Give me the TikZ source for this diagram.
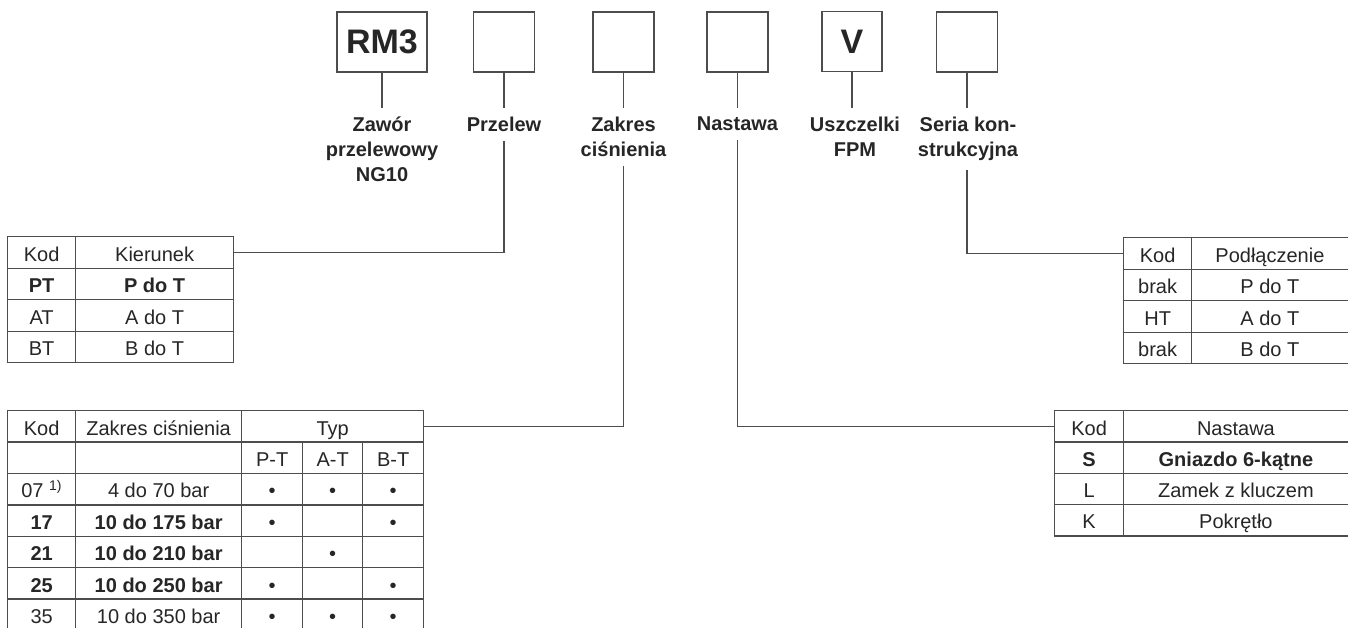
\documentclass[tikz,border=0pt]{standalone}
\usepackage{fontspec}
\setmainfont{Liberation Sans}
\definecolor{linec}{HTML}{4D4D4D}
\definecolor{txt}{HTML}{262626}
% one table cell: name, left, top, width, height, extra options, text
\newcommand\tabcell[7]{\node[cellbox,minimum width=#4pt,minimum height=#5pt,#6] (#1) at (#2,#3) {#7};}
\begin{document}
\begin{tikzpicture}[x=1pt,y=-1pt,
  rule/.style={draw=linec,line width=1.3pt},
  topbox/.style={rule,minimum width=61pt,minimum height=60pt,inner sep=0pt,
    font=\fontsize{34}{40}\selectfont\bfseries,text=txt},
  lbl/.style={font=\fontsize{20}{25}\selectfont\bfseries,align=center,
    inner xsep=0pt,inner ysep=9pt,text=txt,anchor=north},
  cellbox/.style={rule,inner sep=0pt,anchor=north west,
    text height=18pt,text depth=0.5pt,
    font=\fontsize{20}{24}\selectfont,text=txt},
  bold/.style={font=\fontsize{20}{24}\selectfont\bfseries},
  link/.style={rule}]
\useasboundingbox (0,0) rectangle (1348,628);
\clip (0,0) rectangle (1348,628);

% order code boxes
\node[topbox,minimum width=90pt] (b1) at (382,42) {RM3};
\node[topbox] (b2) at (504,42) {};
\node[topbox] (b3) at (623.5,42) {};
\node[topbox] (b4) at (737.5,42) {};
\node[topbox,minimum width=60pt] (b5) at (852,41.5) {V};
\node[topbox] (b6) at (967,42) {};

% field captions
\node[lbl] (l1) at (382,108) {Zawór\\przelewowy\\NG10};
\node[lbl] (l2) at (504,108) {Przelew};
\node[lbl] (l3) at (623.5,108) {Zakres\\ciśnienia};
\node[lbl] (l4) at (737.5,108) {Nastawa};
\node[lbl] (l5) at (855,108) {Uszczelki\\FPM};
\node[lbl] (l6) at (968,108) {Seria kon-\\strukcyjna};

% table: flow direction
\tabcell{kA1}{7}{236}{68}{31.5}{}{Kod}
\tabcell{kB1}{75}{236}{158}{31.5}{}{Kierunek}
\tabcell{kA2}{7}{267.5}{68}{31.5}{bold}{PT}
\tabcell{kB2}{75}{267.5}{158}{31.5}{bold}{P do T}
\tabcell{kA3}{7}{299}{68}{31.5}{}{AT}
\tabcell{kB3}{75}{299}{158}{31.5}{}{A do T}
\tabcell{kA4}{7}{330.5}{68}{31.5}{}{BT}
\tabcell{kB4}{75}{330.5}{158}{31.5}{}{B do T}

% table: pressure range
\tabcell{zA1}{7}{410}{68}{31.4}{}{Kod}
\tabcell{zB1}{75}{410}{166}{31.4}{}{Zakres ciśnienia}
\tabcell{zT}{241}{410}{182}{31.4}{}{Typ}
\tabcell{zA2}{7}{441.4}{68}{31.4}{}{}
\tabcell{zB2}{75}{441.4}{166}{31.4}{}{}
\tabcell{zC2}{241}{441.4}{61}{31.4}{}{P-T}
\tabcell{zD2}{302}{441.4}{60}{31.4}{}{A-T}
\tabcell{zE2}{362}{441.4}{61}{31.4}{}{B-T}
\tabcell{zA3}{7}{472.8}{68}{31.4}{}{07 \textsuperscript{1)}}
\tabcell{zB3}{75}{472.8}{166}{31.4}{}{4 do 70 bar}
\tabcell{zC3}{241}{472.8}{61}{31.4}{}{•}
\tabcell{zD3}{302}{472.8}{60}{31.4}{}{•}
\tabcell{zE3}{362}{472.8}{61}{31.4}{}{•}
\tabcell{zA4}{7}{504.2}{68}{31.4}{bold}{17}
\tabcell{zB4}{75}{504.2}{166}{31.4}{bold}{10 do 175 bar}
\tabcell{zC4}{241}{504.2}{61}{31.4}{}{•}
\tabcell{zD4}{302}{504.2}{60}{31.4}{}{}
\tabcell{zE4}{362}{504.2}{61}{31.4}{}{•}
\tabcell{zA5}{7}{535.6}{68}{31.4}{bold}{21}
\tabcell{zB5}{75}{535.6}{166}{31.4}{bold}{10 do 210 bar}
\tabcell{zC5}{241}{535.6}{61}{31.4}{}{}
\tabcell{zD5}{302}{535.6}{60}{31.4}{}{•}
\tabcell{zE5}{362}{535.6}{61}{31.4}{}{}
\tabcell{zA6}{7}{567}{68}{31.4}{bold}{25}
\tabcell{zB6}{75}{567}{166}{31.4}{bold}{10 do 250 bar}
\tabcell{zC6}{241}{567}{61}{31.4}{}{•}
\tabcell{zD6}{302}{567}{60}{31.4}{}{}
\tabcell{zE6}{362}{567}{61}{31.4}{}{•}
\tabcell{zA7}{7}{598.4}{68}{31.4}{}{35}
\tabcell{zB7}{75}{598.4}{166}{31.4}{}{10 do 350 bar}
\tabcell{zC7}{241}{598.4}{61}{31.4}{}{•}
\tabcell{zD7}{302}{598.4}{60}{31.4}{}{•}
\tabcell{zE7}{362}{598.4}{61}{31.4}{}{•}

% table: connection
\tabcell{pA1}{1123}{237}{68}{31.5}{}{Kod}
\tabcell{pB1}{1191}{237}{156.5}{31.5}{}{Podłączenie}
\tabcell{pA2}{1123}{268.5}{68}{31.5}{}{brak}
\tabcell{pB2}{1191}{268.5}{156.5}{31.5}{}{P do T}
\tabcell{pA3}{1123}{300}{68}{31.5}{}{HT}
\tabcell{pB3}{1191}{300}{156.5}{31.5}{}{A do T}
\tabcell{pA4}{1123}{331.5}{68}{31.5}{}{brak}
\tabcell{pB4}{1191}{331.5}{156.5}{31.5}{}{B do T}

% table: adjustment
\tabcell{nA1}{1054}{410}{69}{31.3}{}{Kod}
\tabcell{nB1}{1123}{410}{224.5}{31.3}{}{Nastawa}
\tabcell{nA2}{1054}{441.3}{69}{31.3}{bold}{S}
\tabcell{nB2}{1123}{441.3}{224.5}{31.3}{bold}{Gniazdo 6-kątne}
\tabcell{nA3}{1054}{472.6}{69}{31.3}{}{L}
\tabcell{nB3}{1123}{472.6}{224.5}{31.3}{}{Zamek z kluczem}
\tabcell{nA4}{1054}{503.9}{69}{31.3}{}{K}
\tabcell{nB4}{1123}{503.9}{224.5}{31.3}{}{Pokrętło}

% leader lines
\draw[link] (b1.south) -- (l1.north);
\draw[link] (b2.south) -- (l2.north);
\draw[link] (l2.south) |- (kB1.east);
\draw[link] (b3.south) -- (l3.north);
\draw[link] (l3.south) |- (zT.east);
\draw[link] (b4.south) -- (l4.north);
\draw[link] (l4.south) |- (nA1.west);
\draw[link] (b5.south) -- (b5.south |- l5.north);
\draw[link] (b6.south) -- (b6.south |- l6.north);
\draw[link] (b6.south |- l6.south) |- (pA1.west);
\end{tikzpicture}
\end{document}
